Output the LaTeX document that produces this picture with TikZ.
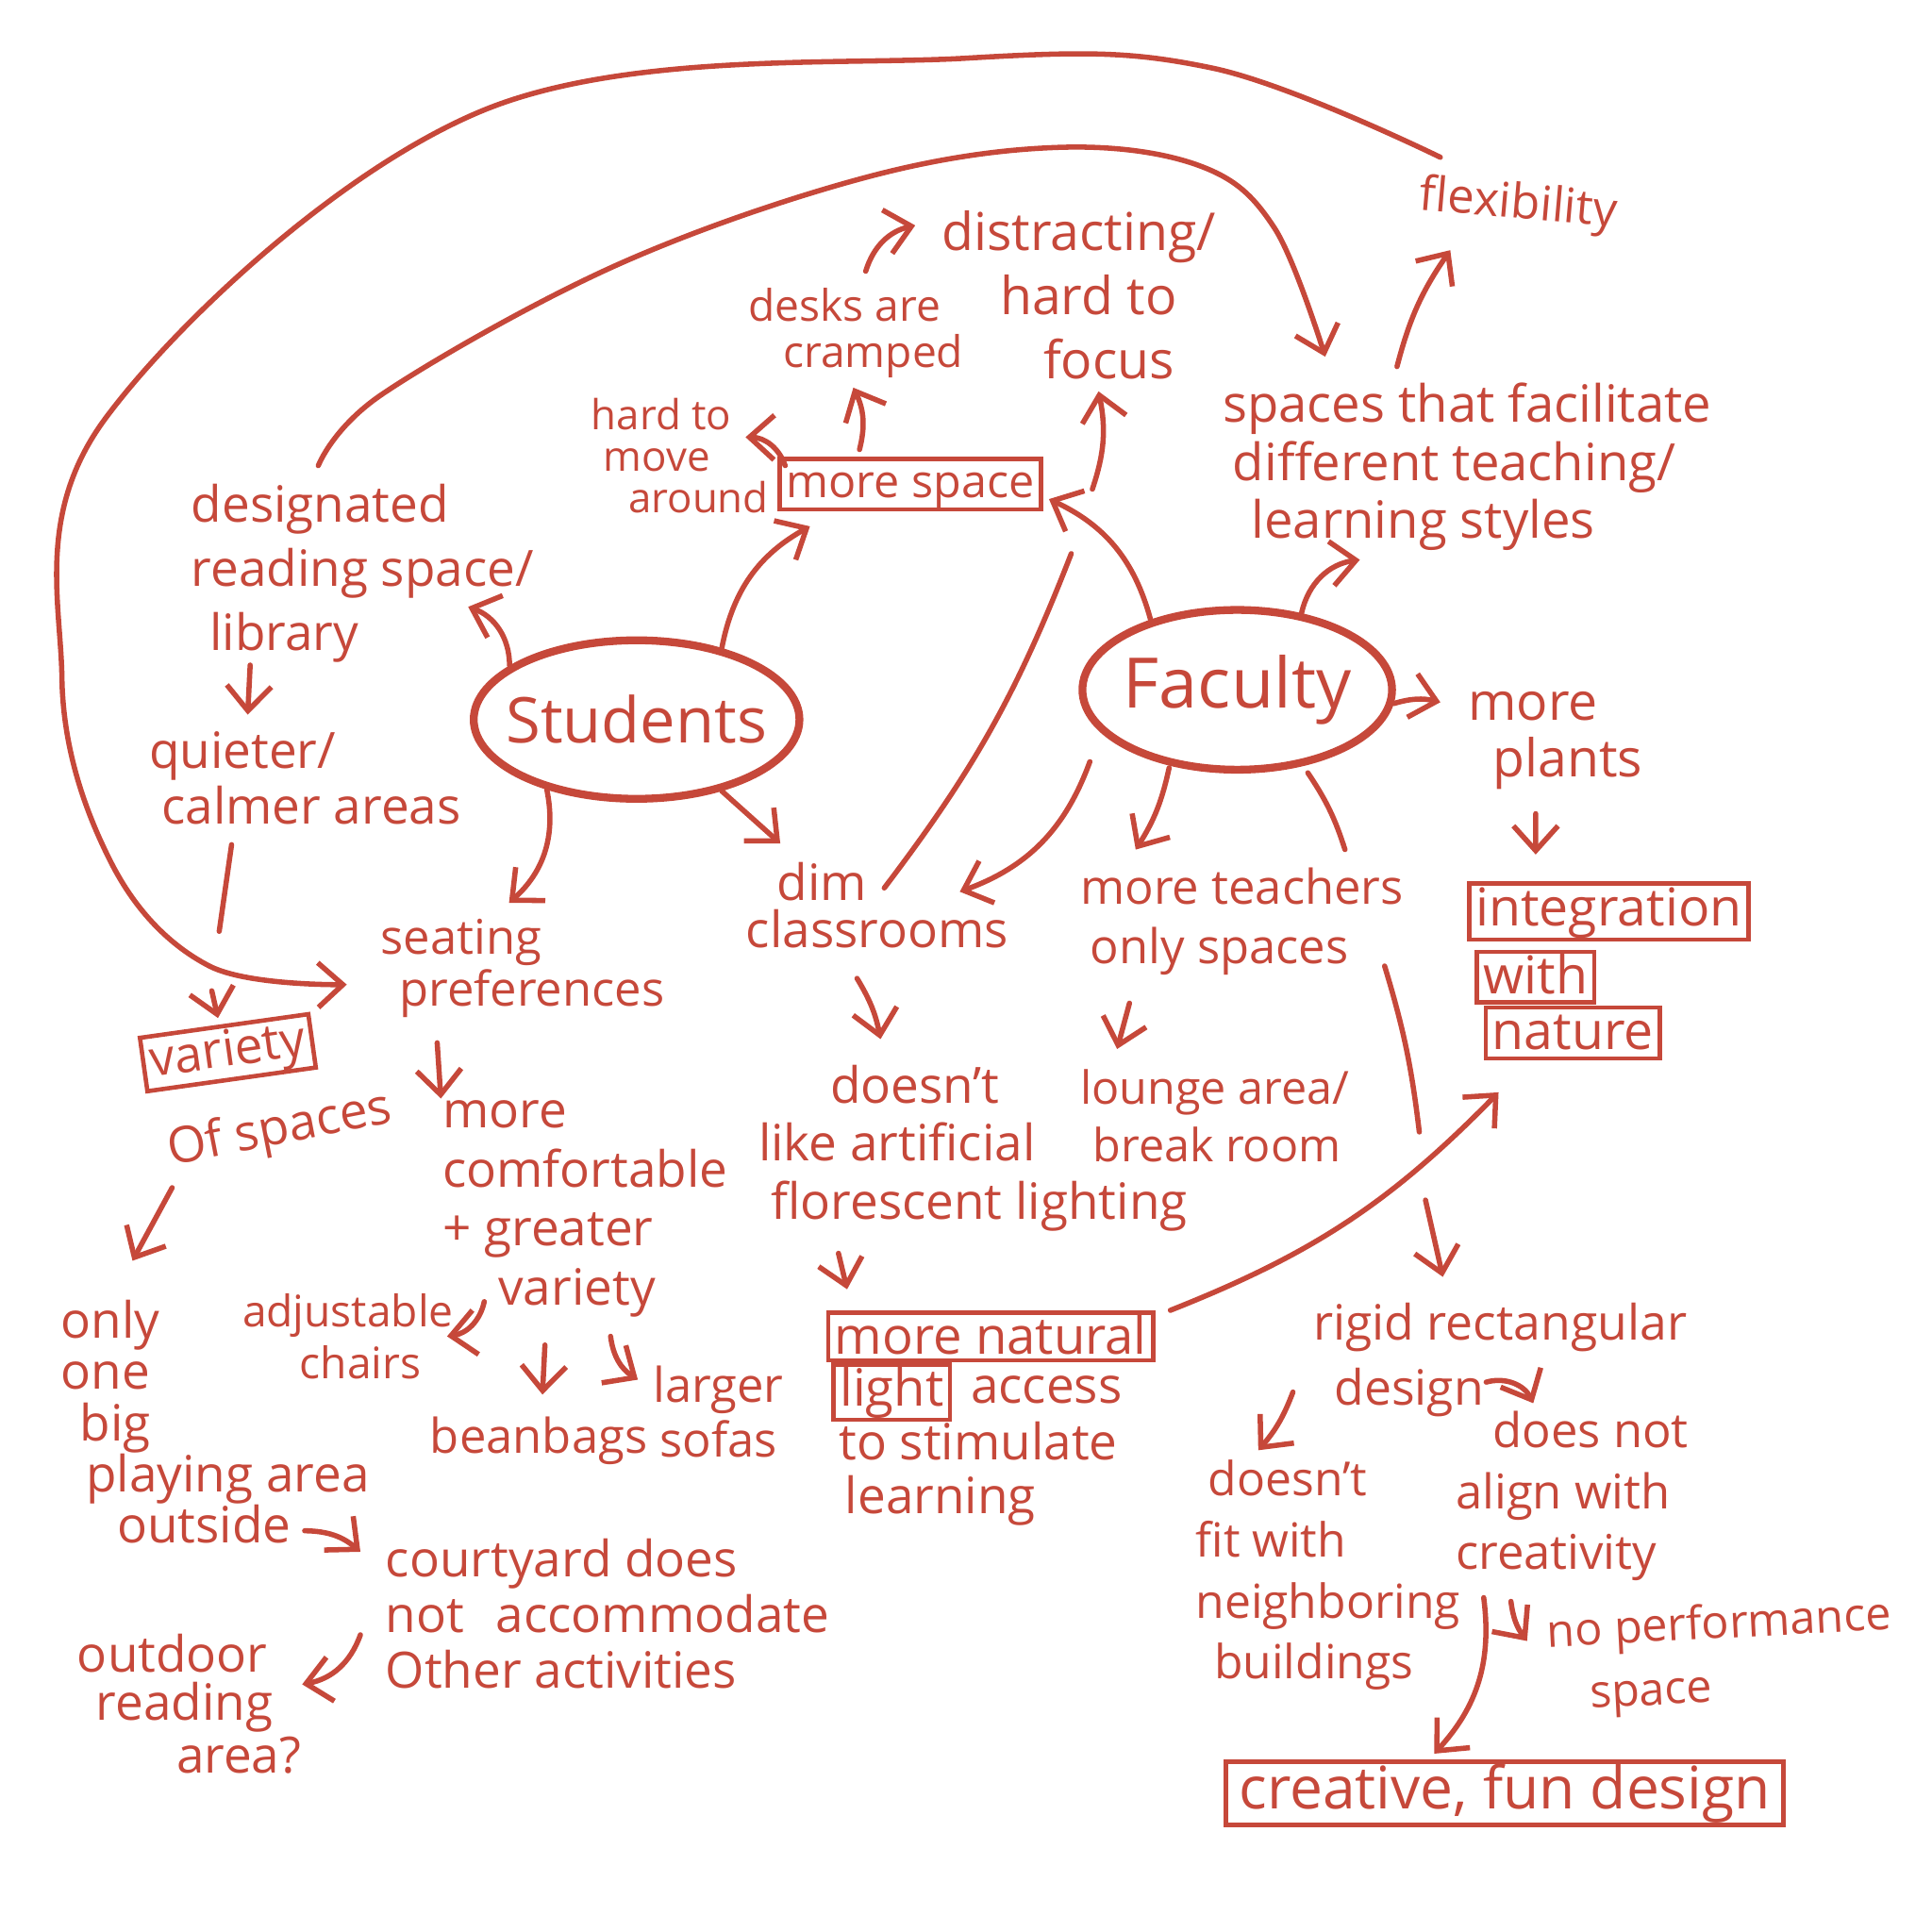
\documentclass[tikz,border=0pt]{standalone}
\usepackage{fontspec}
\setmainfont{Open Sans}
\usetikzlibrary{shapes.geometric,arrows.meta}

\begin{document}
\begin{tikzpicture}[x=1mm, y=-1mm,
    >={Straight Barb[length=2mm,width=3.6mm]},
    lbl/.style={text=ink, align=left, inner sep=0.5pt, font=\fontsize{11.5}{14}\selectfont},
    tag/.style={lbl, draw=ink, line width=1pt, inner xsep=1.5pt, inner ysep=0.5pt, text height=3.1mm, text depth=0.9mm},
    hub/.style={draw=ink, ellipse, line width=1.8pt, inner sep=0pt, text=ink},
    tie/.style={draw=ink, line width=1.2pt, line cap=round}]
    % Define colors
    \definecolor{ink}{RGB}{198,72,58}

    \useasboundingbox (0,0) rectangle (156,156);

    % Hubs
    \node[hub, minimum width=26.3mm, minimum height=12.8mm, font=\fontsize{14.5}{17}\selectfont] (students) at (51.4,58.1) {\makebox[0pt]{Students}};
    \node[hub, minimum width=25mm, minimum height=12.9mm, font=\fontsize{16}{18}\selectfont] (faculty) at (99.9,55.7) {\makebox[0pt]{Faculty}};

    % Students side
    \node[lbl, anchor=west, font=\fontsize{11.5}{14.7}\selectfont] (reading) at (15.2,46.3) {designated\\reading space/\\\hspace*{1.5mm}library};
    \node[lbl, anchor=west, font=\fontsize{11.5}{12.8}\selectfont] (quiet) at (11.8,62.8) {quieter/\\\hspace*{1mm}calmer areas};
    \node[tag, rotate=8] (variety) at (18.4,85.0) {variety};
    \node[lbl, rotate=11] (kinds) at (22.6,91.3) {Of spaces};
    \node[lbl, anchor=west, font=\fontsize{11}{10}\selectfont] (seating) at (30.5,78.2) {seating\\\hspace*{1.5mm}preferences};
    \node[lbl, anchor=west, font=\fontsize{11.5}{13.6}\selectfont] (comfy) at (35.5,97.6) {more\\comfortable\\+ greater\\\hspace*{4.5mm}variety};
    \node[lbl, align=center, font=\fontsize{10}{12}\selectfont] (chairs) at (28.1,107.9) {adjustable\\\hspace*{2mm}chairs};
    \node[lbl, font=\fontsize{11}{13}\selectfont] (beanbags) at (43.5,116.3) {beanbags};
    \node[lbl, align=center, font=\fontsize{11}{12.5}\selectfont] (sofas) at (58.0,114.0) {larger\\sofas};
    \node[lbl, anchor=west, font=\fontsize{11.5}{11.8}\selectfont] (playground) at (4.7,114.8) {only\\one\\\hspace*{1.5mm}big\\\hspace*{2mm}playing area\\\hspace*{4.5mm}outside};
    \node[lbl, anchor=west, font=\fontsize{11.5}{12.8}\selectfont] (courtyard) at (30.9,130.3) {courtyard does\\not \hspace{1.5mm}accommodate\\Other activities};
    \node[lbl, anchor=west, font=\fontsize{11.5}{11}\selectfont] (outdoor) at (6.0,137.6) {outdoor\\\hspace*{1.5mm}reading\\\hspace*{8mm}area?};

    % More space cluster
    \node[tag, font=\fontsize{10.5}{12}\selectfont, text height=2.9mm, text depth=0.8mm] (space) at (73.5,39.1) {more space};
    \node[lbl, anchor=west, font=\fontsize{9.5}{9.5}\selectfont] (move) at (47.5,36.8) {hard to\\\hspace*{1mm}move\\\hspace*{3mm}around};
    \node[lbl, anchor=west, font=\fontsize{10}{10.5}\selectfont] (cramped) at (60.2,26.9) {desks are\\\hspace*{2.8mm}cramped};
    \node[lbl, anchor=west, font=\fontsize{12}{14.7}\selectfont] (focus) at (75.8,23.8) {distracting/\\\hspace*{4.7mm}hard to\\\hspace*{8.2mm}focus};

    % Faculty side
    \node[lbl, anchor=west, font=\fontsize{11.8}{13.3}\selectfont] (styles) at (98.5,37.7) {spaces that facilitate\\\hspace*{0.8mm}different teaching/\\\hspace*{2.3mm}learning styles};
    \node[lbl, rotate=-5, font=\fontsize{11}{13}\selectfont] (flex) at (122.6,16.6) {flexibility};
    \node[lbl, anchor=west, font=\fontsize{12}{12.8}\selectfont] (plants) at (118.3,59.8) {more\\\hspace*{2mm}plants};
    \node[tag, font=\fontsize{12}{14}\selectfont, text height=3.25mm, text depth=0.95mm] (integ) at (129.9,73.6) {integration};
    \node[tag, font=\fontsize{12}{14}\selectfont, text height=3.25mm, text depth=0.5mm] (with) at (124.0,78.9) {with};
    \node[tag, font=\fontsize{12}{14}\selectfont, text height=3.25mm, text depth=0.5mm] (nature) at (127.0,83.4) {nature};
    \node[lbl, anchor=west, font=\fontsize{11.5}{10.8}\selectfont] (dim) at (60,73.1) {\hspace*{2.5mm}dim\\classrooms};
    \node[lbl, anchor=west, font=\fontsize{11.5}{13.3}\selectfont] (fluor) at (61,92.7) {\hspace*{5.8mm}doesn't\\like artificial\\\hspace*{1mm}florescent lighting};
    \node[tag, font=\fontsize{11.8}{13}\selectfont, text height=3.2mm, text depth=0.3mm] (natural) at (80.0,107.9) {more natural};
    \node[tag, font=\fontsize{11.8}{13}\selectfont, text height=3.2mm, text depth=0.9mm] (light) at (72.0,112.4) {light};
    \node[lbl] (access) at (84.5,112.2) {access};
    \node[lbl, anchor=west, font=\fontsize{11.5}{12.5}\selectfont] (stimulate) at (67.5,119.0) {to stimulate\\\hspace*{0.5mm}learning};
    \node[lbl, anchor=west, font=\fontsize{11}{13.6}\selectfont] (teachers) at (87,74.4) {more teachers\\\hspace*{0.8mm}only spaces};
    \node[lbl, anchor=west, font=\fontsize{10.5}{13.3}\selectfont] (lounge) at (87,90.1) {lounge area/\\\hspace*{1mm}break room};
    \node[lbl, anchor=west, font=\fontsize{11.2}{15}\selectfont] (rigid) at (105.8,109.8) {rigid rectangular\\\hspace*{1.7mm}design};
    \node[lbl, anchor=west, font=\fontsize{10.8}{14}\selectfont] (misfit) at (96.3,127.2) {\hspace*{1mm}doesn't\\fit with\\neighboring\\\hspace*{1.5mm}buildings};
    \node[lbl, anchor=west, font=\fontsize{11}{14}\selectfont] (align) at (117.3,120.8) {\hspace*{3mm}does not\\align with\\creativity};
    \node[lbl, anchor=west, rotate=3, font=\fontsize{10.5}{14.5}\selectfont] (stage) at (124.8,134.6) {no performance\\\hspace*{3.2mm}space};
    \node[tag, font=\fontsize{13.5}{15}\selectfont, inner xsep=3pt, text height=3.65mm, text depth=1.1mm] (fun) at (121.5,144.8) {creative, fun design};

    % Long loops
    \draw[tie,->] plot[smooth, tension=0.6] coordinates {([shift={(-6.3,-3.9)}]flex.center) (97.9,5.5) (78,4.7) (38.8,9.0) (8.5,33.8) (5.0,54.7) (9.0,69.7) (16.9,78.0) ([shift={(-2.5,1.3)}]seating.west)};
    \draw[tie,->] plot[smooth, tension=0.6] coordinates {([shift={(10.5,-8.7)}]reading.west) (30.9,31.8) (49.8,21.4) (70.0,14.3) (85.5,11.9) (96.9,13.4) (102.9,18.4) ([shift={(8.5,-8.9)}]styles.west)};

    % Students arrows
    \draw[tie,->] (students.157) to[bend right=35] ([shift={(22.6,2.7)}]reading.west);
    \draw[tie,->] (students.40) to[bend left=25] ([shift={(-8.1,3.4)}]space.center);
    \draw[tie,->] (students.218) to[bend left=30] ([shift={(10.6,-5.3)}]seating.west);
    \draw[tie,->] (students.-40) -- ([shift={(3.0,-5.0)}]dim.west);
    \draw[tie,->] ([shift={(5.0,7.4)}]reading.west) -- ([shift={(8.2,-5.1)}]quiet.west);
    \draw[tie] ([shift={(6.9,5.4)}]quiet.west) -- ([shift={(5.9,12.4)}]quiet.west);
    \draw[tie,->] ([shift={(-1.3,-5.0)}]variety.center) -- ([shift={(-0.8,-2.8)}]variety.center);
    \draw[tie,->] ([shift={(4.8,6.0)}]seating.west) -- ([shift={(0.1,-8.9)}]comfy.west);
    \draw[tie,->] ([shift={(-8.7,4.6)}]kinds.center) -- ([shift={(6.0,-13.0)}]playground.west);
    \draw[tie,->] ([shift={(3.6,7.5)}]comfy.west) to[bend left=35] ([shift={(8.0,0)}]chairs.center);
    \draw[tie,->] ([shift={(0.5,-7.7)}]beanbags.center) -- ([shift={(0.3,-3.7)}]beanbags.center);
    \draw[tie,->] ([shift={(-8.7,-6.1)}]sofas.center) to[bend right=25] ([shift={(-6.5,-2.6)}]sofas.center);
    \draw[tie,->] ([shift={(19.9,8.8)}]playground.west) to[bend left=20] ([shift={(-1.8,-5.0)}]courtyard.west);
    \draw[tie,->] ([shift={(-1.8,1.7)}]courtyard.west) to[bend left=30] ([shift={(18.4,-1.6)}]outdoor.west);

    % More space arrows
    \draw[tie,->] ([shift={(-10.1,-1.5)}]space.center) to[bend right=35] ([shift={(12.7,-1.5)}]move.west);
    \draw[tie,->] ([shift={(-4.1,-2.8)}]space.center) to[bend right=20] ([shift={(8.7,4.4)}]cramped.west);
    \draw[tie,->] ([shift={(9.7,-5.0)}]cramped.west) to[bend left=30] ([shift={(-1.9,-5.6)}]focus.west);
    \draw[tie,->] ([shift={(14.7,0.4)}]space.center) to[bend right=15] ([shift={(12.9,7.8)}]focus.west);

    % Faculty arrows
    \draw[tie,->] (faculty.141) to[bend right=25] ([shift={(11.2,1.2)}]space.center);
    \draw[tie] ([shift={(11.4,-1.4)}]dim.west) to[bend right=8] ([shift={(13.0,5.6)}]space.center);
    \draw[tie,->] (faculty.50) to[bend left=35] ([shift={(11.3,7.5)}]styles.west);
    \draw[tie,->] ([shift={(14.3,-8.1)}]styles.west) to[bend left=10] ([shift={(-5.5,3.6)}]flex.center);
    \draw[tie,->] (faculty.-5) to[bend left=15] ([shift={(-2.0,-3.1)}]plants.west);
    \draw[tie,->] ([shift={(5.7,5.9)}]plants.west) -- ([shift={(-5.9,-4.6)}]integ.center);
    \draw[tie,->] ([shift={(-11.9,5.8)}]faculty.center) to[bend left=25] ([shift={(17.5,-1.1)}]dim.west);
    \draw[tie,->] ([shift={(-5.5,6.3)}]faculty.center) to[bend left=10] ([shift={(4.7,-5.8)}]teachers.west);
    \draw[tie] ([shift={(5.7,6.7)}]faculty.center) to[bend left=8] ([shift={(21.6,-5.8)}]teachers.west);
    \draw[tie] ([shift={(24.8,-12.1)}]lounge.west) to[bend left=5] ([shift={(27.6,1.3)}]lounge.west);
    \draw[tie,->] ([shift={(9.3,-12.9)}]rigid.west) -- ([shift={(10.7,-6.7)}]rigid.west);

    % Lower middle arrows
    \draw[tie,->] ([shift={(9.2,5.9)}]dim.west) to[bend left=10] ([shift={(10.1,-8.8)}]fluor.west);
    \draw[tie,->] ([shift={(6.7,8.5)}]fluor.west) -- ([shift={(-11.6,-3.8)}]natural.center);
    \draw[tie,->] ([shift={(14.5,-2.1)}]natural.center) to[bend right=12] ([shift={(-6.0,4.8)}]nature.center);
    \draw[tie,->] ([shift={(4.2,6.6)}]teachers.west) -- ([shift={(3.2,-5.4)}]lounge.west);

    % Rigid design arrows
    \draw[tie,->] ([shift={(-1.4,2.6)}]rigid.west) to[bend left=10] ([shift={(5.3,-10.1)}]misfit.west);
    \draw[tie,->] ([shift={(14.2,1.8)}]rigid.west) to[bend left=40] ([shift={(6.5,-7.5)}]align.west);
    \draw[tie,->] ([shift={(4.7,8.5)}]align.west) to[bend right=15] ([shift={(-1.5,-2.1)}]stage.west);
    \draw[tie,->] ([shift={(2.5,8.2)}]align.west) to[bend left=25] ([shift={(-5.7,-3.2)}]fun.center);

\end{tikzpicture}
\end{document}
